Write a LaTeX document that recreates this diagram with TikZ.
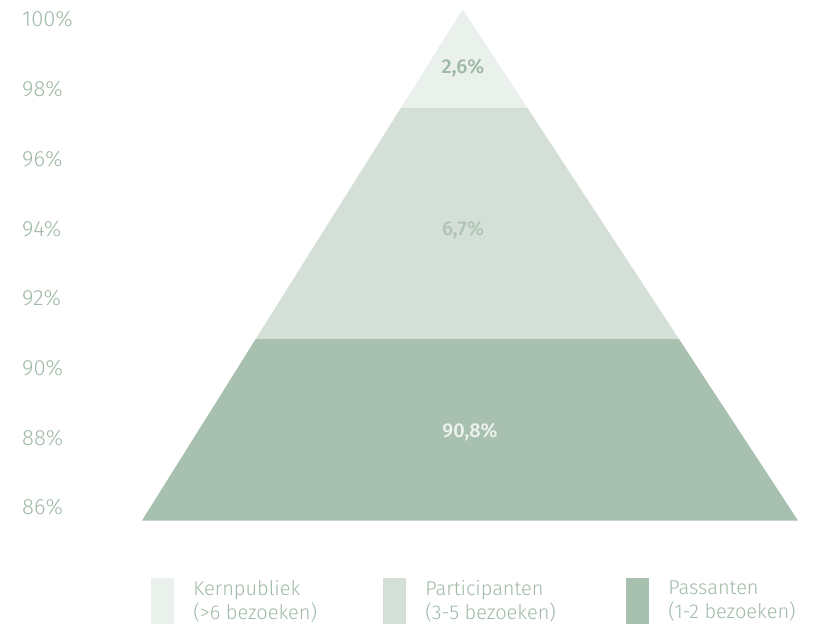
\documentclass[tikz,border=0pt]{standalone}
\usepackage{fontspec}
\setmainfont{Fira Sans Light}
\newfontfamily\medfont{Fira Sans Medium}
\usetikzlibrary{positioning}
\definecolor{kern}{HTML}{EAF0EC}
\definecolor{parti}{HTML}{D4E0D7}
\definecolor{pass}{HTML}{A8C0AF}
\definecolor{txt}{HTML}{9FB9A6}
\definecolor{midtxt}{HTML}{B0C4B5}
\definecolor{lighttxt}{HTML}{EDF2EE}
\tikzset{
  axislabel/.style={anchor=base west,text=txt,inner sep=0pt,font=\fontsize{22}{24}\selectfont},
  bandlabel/.style={text=txt,inner sep=0pt,font=\medfont\fontsize{20}{22}\selectfont},
  legendbox/.style={minimum width=23pt,minimum height=46pt,inner sep=0pt},
  legendtext/.style={right=19pt of #1,anchor=west,align=left,text=txt,inner sep=0pt,
    font=\fontsize{20}{24}\selectfont}
}
\begin{document}
\begin{tikzpicture}[x=1pt,y=-1pt]
\useasboundingbox (0,0) rectangle (814,628);
% pyramid corners
\coordinate (T)  at (462.7,9.3);
\coordinate (BL) at (142,520.5);
\coordinate (BR) at (798,520.5);
\coordinate (ML) at (255.7,339);
\coordinate (MR) at (679,339);
\coordinate (UL) at (401.2,107.3);
\coordinate (UR) at (527,107.3);
\fill[pass]  (BL) -- (BR) -- (MR) -- (ML) -- cycle;
\fill[parti] (ML) -- (MR) -- (UR) -- (UL) -- cycle;
\fill[kern]  (UL) -- (UR) -- (T) -- cycle;
% band values
\node[bandlabel] (v1) at (463,68) {2,6\%};
\node[bandlabel,text=midtxt] (v2) at (463,230) {6,7\%};
\node[bandlabel,text=lighttxt] (v3) at (470,432) {90,8\%};
% axis
\foreach \p [count=\i from 0] in {100,98,96,94,92,90,88,86}
  \node[axislabel] (y\p) at (22,27+69.7*\i) {\p\%};
% legend
\node[legendbox,fill=kern]  (k1) at (162.5,601) {};
\node[legendtext=k1] (k1t) {Kernpubliek\\(>6 bezoeken)};
\node[legendbox,fill=parti] (k2) at (394.5,601) {};
\node[legendtext=k2] (k2t) {Participanten\\(3-5 bezoeken)};
\node[legendbox,fill=pass]  (k3) at (637.5,601) {};
\node[legendtext=k3] (k3t) {Passanten\\(1-2 bezoeken)};
\end{tikzpicture}
\end{document}
